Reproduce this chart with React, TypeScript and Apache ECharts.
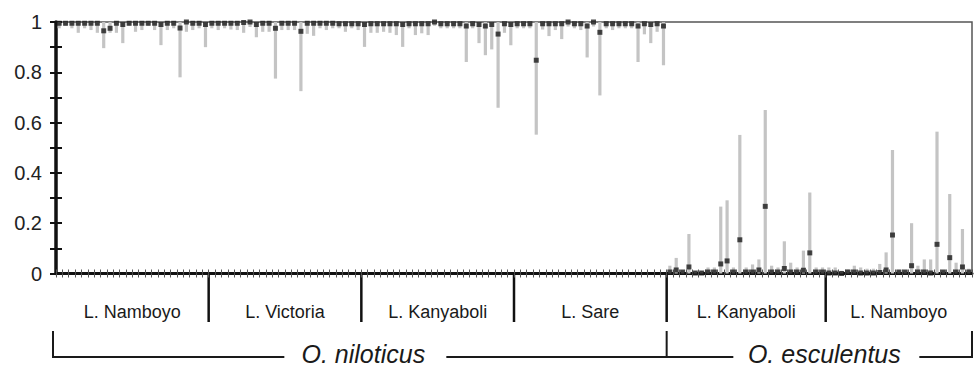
import React, { useEffect, useRef } from "react";
import * as echarts from "echarts";

const groupNames = ["L. Namboyo", "L. Victoria", "L. Kanyaboli", "L. Sare", "L. Kanyaboli", "L. Namboyo"];
const groupSizes = [24, 24, 24, 24, 25, 23];
const speciesNames = ["O. niloticus", "O. esculentus"];
const speciesGroupCounts = [4, 2];

// point estimates (black squares), one per individual
const estimates = [
  // O. niloticus – L. Namboyo
  0.995, 0.995, 0.995, 0.995, 0.995, 0.995, 0.995, 0.965, 0.975, 0.995, 0.99, 0.995,
  0.995, 0.995, 0.995, 0.995, 0.99, 0.995, 0.995, 0.976, 1.0, 0.995, 0.995, 0.99,
  // L. Victoria
  0.995, 0.995, 0.995, 0.995, 0.995, 0.998, 1.0, 0.99, 0.995, 0.995, 0.975, 0.995,
  0.995, 0.995, 0.963, 0.995, 0.995, 0.995, 0.995, 0.995, 0.993, 0.993, 0.993, 0.993,
  // L. Kanyaboli
  0.99, 0.993, 0.993, 0.993, 0.993, 0.993, 0.99, 0.993, 0.993, 0.993, 0.993, 1.0,
  0.993, 0.993, 0.993, 0.993, 0.984, 0.993, 0.99, 0.984, 0.99, 0.952, 0.993, 0.99,
  // L. Sare
  0.993, 0.993, 0.993, 0.848, 0.993, 0.993, 0.993, 0.993, 1.0, 0.993, 0.993, 0.984,
  1.0, 0.959, 0.993, 0.993, 0.993, 0.993, 0.993, 0.984, 0.993, 0.99, 0.993, 0.984,
  // O. esculentus – L. Kanyaboli
  0.006, 0.014, 0.006, 0.026, 0.002, 0.002, 0.006, 0.006, 0.038, 0.05, 0.006, 0.134,
  0.006, 0.006, 0.014, 0.267, 0.006, 0.006, 0.02, 0.006, 0.006, 0.013, 0.082, 0.006, 0.006,
  // L. Namboyo
  0.002, 0.002, 0.0, 0.006, 0.006, 0.002, 0.002, 0.002, 0.004, 0.014, 0.153, 0.006,
  0.006, 0.031, 0.006, 0.006, 0.002, 0.116, 0.006, 0.063, 0.006, 0.026, 0.006,
];

// lower bound of the interval (grey bars)
const lowerCI = [
  0.975, 0.985, 0.975, 0.957, 0.975, 0.968, 0.957, 0.896, 0.957, 0.957, 0.916, 0.985,
  0.961, 0.968, 0.985, 0.968, 0.908, 0.968, 0.975, 0.78, 0.961, 0.968, 0.975, 0.9,
  0.975, 0.968, 0.975, 0.97, 0.968, 0.957, 0.98, 0.939, 0.961, 0.961, 0.775, 0.968,
  0.968, 0.968, 0.725, 0.953, 0.945, 0.975, 0.968, 0.975, 0.975, 0.961, 0.975, 0.968,
  0.901, 0.957, 0.957, 0.961, 0.957, 0.948, 0.901, 0.975, 0.948, 0.955, 0.948, 0.985,
  0.975, 0.975, 0.975, 0.975, 0.841, 0.975, 0.916, 0.868, 0.891, 0.659, 0.957, 0.908,
  0.975, 0.975, 0.975, 0.552, 0.97, 0.944, 0.968, 0.932, 0.982, 0.975, 0.968, 0.859,
  0.982, 0.708, 0.975, 0.968, 0.975, 0.975, 0.975, 0.841, 0.951, 0.916, 0.961, 0.828,
  0, 0, 0, 0, 0, 0, 0, 0, 0, 0, 0, 0,
  0, 0, 0, 0, 0, 0, 0, 0, 0, 0, 0, 0, 0,
  0, 0, 0, 0, 0, 0, 0, 0, 0, 0, 0, 0,
  0, 0, 0, 0, 0, 0, 0, 0, 0, 0, 0,
];

// upper bound of the interval (grey bars)
const upperCI = [
  1, 1, 1, 1, 1, 1, 1, 1, 1, 1, 1, 1, 1, 1, 1, 1, 1, 1, 1, 1, 1, 1, 1, 1,
  1, 1, 1, 1, 1, 1, 1, 1, 1, 1, 1, 1, 1, 1, 1, 1, 1, 1, 1, 1, 1, 1, 1, 1,
  1, 1, 1, 1, 1, 1, 1, 1, 1, 1, 1, 1, 1, 1, 1, 1, 1, 1, 1, 1, 1, 1, 1, 1,
  1, 1, 1, 1, 1, 1, 1, 1, 1, 1, 1, 1, 1, 1, 1, 1, 1, 1, 1, 1, 1, 1, 1, 1,
  0.031, 0.062, 0.012, 0.157, 0.01, 0.01, 0.024, 0.024, 0.266, 0.291, 0.024, 0.551,
  0.024, 0.036, 0.056, 0.65, 0.031, 0.024, 0.128, 0.043, 0.024, 0.091, 0.322, 0.024, 0.024,
  0.024, 0.024, 0.011, 0.016, 0.031, 0.024, 0.019, 0.019, 0.038, 0.084, 0.491, 0.012,
  0.012, 0.2, 0.031, 0.056, 0.056, 0.564, 0.012, 0.316, 0.043, 0.177, 0.019,
];

const FONT = "'Liberation Sans', Arial, Helvetica, sans-serif";

export default function App() {
  const ref = useRef<HTMLDivElement>(null);

  useEffect(() => {
    if (!ref.current) return;
    const chart = echarts.init(ref.current, undefined, { renderer: "svg" });
    const total = groupSizes.reduce((a, b) => a + b, 0);

    const barData = estimates.map((_, i) => [i + 0.5, lowerCI[i], upperCI[i]]);
    const pointData = estimates.map((v, i) => [i + 0.5, v]);

    const xBase = {
      type: "value" as const,
      min: 0,
      max: total,
      interval: 1,
      position: "bottom" as const,
      axisLabel: { show: false },
      splitLine: { show: false },
    };
    const yBase = {
      type: "value" as const,
      min: 0,
      max: 1,
      interval: 0.2,
      position: "left" as const,
      splitLine: { show: false },
    };

    chart.setOption({
      animation: false,
      grid: {
        left: 56,
        right: 2,
        top: 22,
        bottom: 93.5,
        show: true,
        borderColor: "#555",
        borderWidth: 1.5,
        containLabel: false,
        outerBoundsMode: "none",
      },
      xAxis: [
        {
          ...xBase,
          axisLine: { show: true, onZero: false, lineStyle: { color: "#111", width: 3 } },
          axisTick: { show: true, length: 4, lineStyle: { color: "#555", width: 1 } },
        },
        {
          ...xBase,
          axisLine: { show: false },
          axisTick: { show: true, inside: true, length: 4, lineStyle: { color: "#555", width: 1 } },
        },
      ],
      yAxis: [
        {
          ...yBase,
          axisLine: { show: true, onZero: false, lineStyle: { color: "#111", width: 3.5 } },
          axisTick: { show: true, length: 6, lineStyle: { color: "#111", width: 2 } },
          minorTick: { show: true, splitNumber: 2, length: 6, lineStyle: { color: "#111", width: 2 } },
          axisLabel: { margin: 14, fontSize: 20, color: "#222", fontFamily: FONT },
        },
        {
          ...yBase,
          axisLine: { show: false },
          axisTick: { show: true, inside: true, length: 6, lineStyle: { color: "#111", width: 2 } },
          minorTick: { show: true, splitNumber: 2, length: 6, lineStyle: { color: "#111", width: 2 } },
          axisLabel: { show: false },
        },
      ],
      series: [
        {
          type: "custom",
          xAxisIndex: 0,
          yAxisIndex: 0,
          data: barData,
          encode: { x: 0, y: [1, 2] },
          z: 2,
          renderItem: (_params: any, api: any) => {
            const x = api.value(0);
            const top = api.coord([x, api.value(2)]);
            const bot = api.coord([x, api.value(1)]);
            return {
              type: "rect",
              shape: { x: top[0] - 1.6, y: top[1], width: 3.2, height: Math.max(bot[1] - top[1], 0) },
              style: { fill: "#c4c4c4" },
            };
          },
        },
        {
          type: "scatter",
          xAxisIndex: 0,
          yAxisIndex: 0,
          data: pointData,
          symbol: "rect",
          symbolSize: 5,
          itemStyle: { color: "#1a1a1a" },
          clip: false,
          z: 3,
        },
      ],
    });

    const px = (v: number) => chart.convertToPixel({ xAxisIndex: 0 }, v) as number;
    const py = (v: number) => chart.convertToPixel({ yAxisIndex: 0 }, v) as number;
    const y0 = py(0);

    const starts: number[] = [];
    let acc = 0;
    groupSizes.forEach((s) => {
      starts.push(acc);
      acc += s;
    });

    const graphics: any[] = [];
    // group separators and group labels
    groupSizes.forEach((s, g) => {
      const a = starts[g];
      const b = a + s;
      if (g < groupSizes.length - 1) {
        graphics.push({
          type: "line",
          shape: { x1: px(b), y1: y0, x2: px(b), y2: 322 },
          style: { stroke: "#111", lineWidth: 2.5 },
        });
      }
      graphics.push({
        type: "text",
        x: (px(a) + px(b)) / 2,
        y: 312,
        style: {
          text: groupNames[g],
          fill: "#1a1a1a",
          font: `18px ${FONT}`,
          textAlign: "center",
          textVerticalAlign: "middle",
        },
      });
    });

    // species brackets
    const spStart: number[] = [];
    const spEnd: number[] = [];
    let gi = 0;
    speciesGroupCounts.forEach((c) => {
      spStart.push(starts[gi]);
      spEnd.push(starts[gi + c - 1] + groupSizes[gi + c - 1]);
      gi += c;
    });
    const lineY = 357;
    const tickTop = 331;
    const textOffsets = [2, 5];
    const gapsLeft = [79, 91];
    const gapsRight = [83, 95];
    const stroke = { stroke: "#1a1a1a", lineWidth: 2 };

    speciesNames.forEach((name, s) => {
      const xa = px(spStart[s]);
      const xb = px(spEnd[s]);
      const cx = (xa + xb) / 2 + textOffsets[s];
      const leftX = s === 0 ? xa - 3 : xa;
      graphics.push({
        type: "polyline",
        shape: { points: [[leftX, s === 0 ? tickTop : lineY], [leftX, lineY], [cx - gapsLeft[s], lineY]] },
        style: { ...stroke, fill: null },
      });
      graphics.push({
        type: "polyline",
        shape: { points: [[cx + gapsRight[s], lineY], [xb, lineY], [xb, tickTop]] },
        style: { ...stroke, fill: null },
      });
      graphics.push({
        type: "text",
        x: cx,
        y: 354,
        style: {
          text: name,
          fill: "#1a1a1a",
          font: `italic 25px ${FONT}`,
          textAlign: "center",
          textVerticalAlign: "middle",
        },
      });
    });

    chart.setOption({ graphic: graphics });

    return () => chart.dispose();
  }, []);

  return (
    <div
      ref={ref}
      style={{ position: "fixed", left: 0, top: 0, width: 974, height: 367, background: "#fff" }}
    />
  );
}
